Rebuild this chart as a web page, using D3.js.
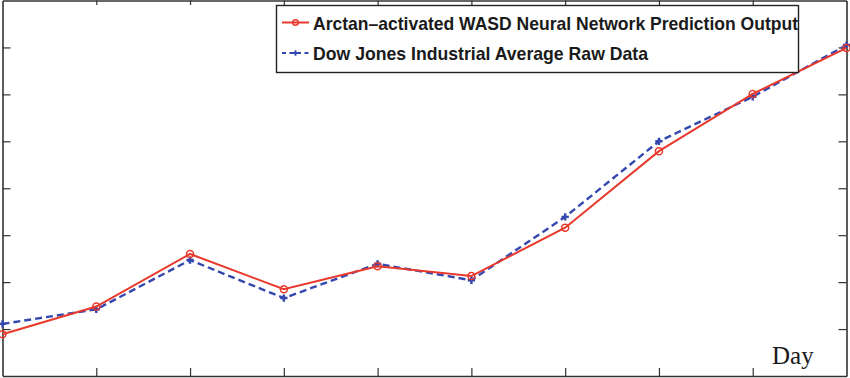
<html>

<head>
    <script src="https://d3js.org/d3.v7.min.js"></script>
    <style>
        body { margin: 0; background: #fff; }
        .axis line, .axis path { stroke: #333; }
    </style>
</head>

<body>
    <div id="chart"></div>
    <script>
        // days on the x axis
        const days = [1, 2, 3, 4, 5, 6, 7, 8, 9, 10];
        // values (y axis unlabeled, in tick units)
        const predicted = [0.89, 1.48, 2.60, 1.85, 2.34, 2.13, 3.16, 4.79, 6.01, 6.99];
        const rawData = [1.11, 1.42, 2.47, 1.66, 2.39, 2.04, 3.39, 5.00, 5.95, 7.05];
        const yTicks = [1, 2, 3, 4, 5, 6, 7];
        const xTicks = [2, 3, 4, 5, 6, 7, 8, 9];
        const seriesNames = ["Arctan\u2013activated WASD Neural Network Prediction Output",
            "Dow Jones Industrial Average Raw Data"];

        const red = "#e8392c";
        const blue = "#3548b0";

        const svg = d3.select("#chart")
            .append("svg")
            .attr("width", 850)
            .attr("height", 378);

        const x = d3.scaleLinear().domain([1, 10]).range([2.5, 846.5]);
        const y = d3.scaleLinear().domain([0, 8]).range([376, 0.5]);

        // axes box with inward ticks
        svg.append("g").attr("class", "axis")
            .attr("transform", "translate(0,376)")
            .call(d3.axisBottom(x).tickValues(xTicks).tickSize(-8).tickSizeOuter(0).tickFormat(""));
        svg.append("g").attr("class", "axis")
            .attr("transform", "translate(0,0.5)")
            .call(d3.axisTop(x).tickValues(xTicks).tickSize(-4.5).tickSizeOuter(0).tickFormat(""));
        svg.append("g").attr("class", "axis")
            .attr("transform", "translate(2.5,0)")
            .call(d3.axisLeft(y).tickValues(yTicks).tickSize(-8).tickSizeOuter(0).tickFormat(""));
        svg.append("g").attr("class", "axis")
            .attr("transform", "translate(846.5,0)")
            .call(d3.axisRight(y).tickValues(yTicks).tickSize(-8).tickSizeOuter(0).tickFormat(""));
        svg.selectAll(".axis path").attr("stroke-width", 1.6);
        svg.selectAll(".axis line").attr("stroke-width", 1.2);

        const line = d3.line().x((d, i) => x(days[i])).y(d => y(d));

        // raw data (blue dashed, plus markers)
        svg.append("path")
            .datum(rawData)
            .attr("d", line)
            .attr("fill", "none")
            .attr("stroke", blue)
            .attr("stroke-width", 2.4)
            .attr("stroke-dasharray", "7,4");

        svg.selectAll(".plus").data(rawData)
            .join("path")
            .attr("class", "plus")
            .attr("transform", (d, i) => "translate(" + x(days[i]) + "," + y(d) + ")")
            .attr("d", d3.symbol().type(d3.symbolCross).size(30))
            .attr("fill", blue);

        // prediction (red solid, circle markers)
        svg.append("path")
            .datum(predicted)
            .attr("d", line)
            .attr("fill", "none")
            .attr("stroke", red)
            .attr("stroke-width", 2);

        svg.selectAll(".dot").data(predicted)
            .join("circle")
            .attr("class", "dot")
            .attr("cx", (d, i) => x(days[i]))
            .attr("cy", d => y(d))
            .attr("r", 3.5)
            .attr("fill", "none")
            .attr("stroke", red)
            .attr("stroke-width", 1.5);

        // x label
        svg.append("text")
            .attr("x", 772)
            .attr("y", 364)
            .attr("font-family", "Liberation Serif, Times New Roman, serif")
            .attr("font-size", 25)
            .attr("fill", "#1a1a1a")
            .text("Day");

        // legend
        const legend = svg.append("g");
        legend.append("rect")
            .attr("x", 276.5).attr("y", 5.5)
            .attr("width", 522).attr("height", 67)
            .attr("fill", "#fff")
            .attr("stroke", "#222")
            .attr("stroke-width", 1.4);

        const rows = [
            { name: seriesNames[0], color: red, dash: null, yy: 22.5, len: 485 },
            { name: seriesNames[1], color: blue, dash: "4,3.5", yy: 53, len: 335 }
        ];
        rows.forEach((r, i) => {
            legend.append("line")
                .attr("x1", 282).attr("x2", 309)
                .attr("y1", r.yy).attr("y2", r.yy)
                .attr("stroke", r.color)
                .attr("stroke-width", i === 0 ? 2 : 2.2)
                .attr("stroke-dasharray", r.dash);
            if (i === 0) {
                legend.append("circle")
                    .attr("cx", 295.5).attr("cy", r.yy).attr("r", 2.8)
                    .attr("fill", "none").attr("stroke", r.color).attr("stroke-width", 1.4);
            } else {
                legend.append("path")
                    .attr("transform", "translate(295.5," + r.yy + ")")
                    .attr("d", d3.symbol().type(d3.symbolCross).size(18))
                    .attr("fill", r.color);
            }
            legend.append("text")
                .attr("x", 313)
                .attr("y", r.yy + 7)
                .attr("font-family", "Liberation Sans, Arial, sans-serif")
                .attr("font-weight", "bold")
                .attr("font-size", 19)
                .attr("textLength", r.len)
                .attr("lengthAdjust", "spacingAndGlyphs")
                .attr("fill", "#1a1a1a")
                .text(r.name);
        });
    </script>
</body>

</html>
